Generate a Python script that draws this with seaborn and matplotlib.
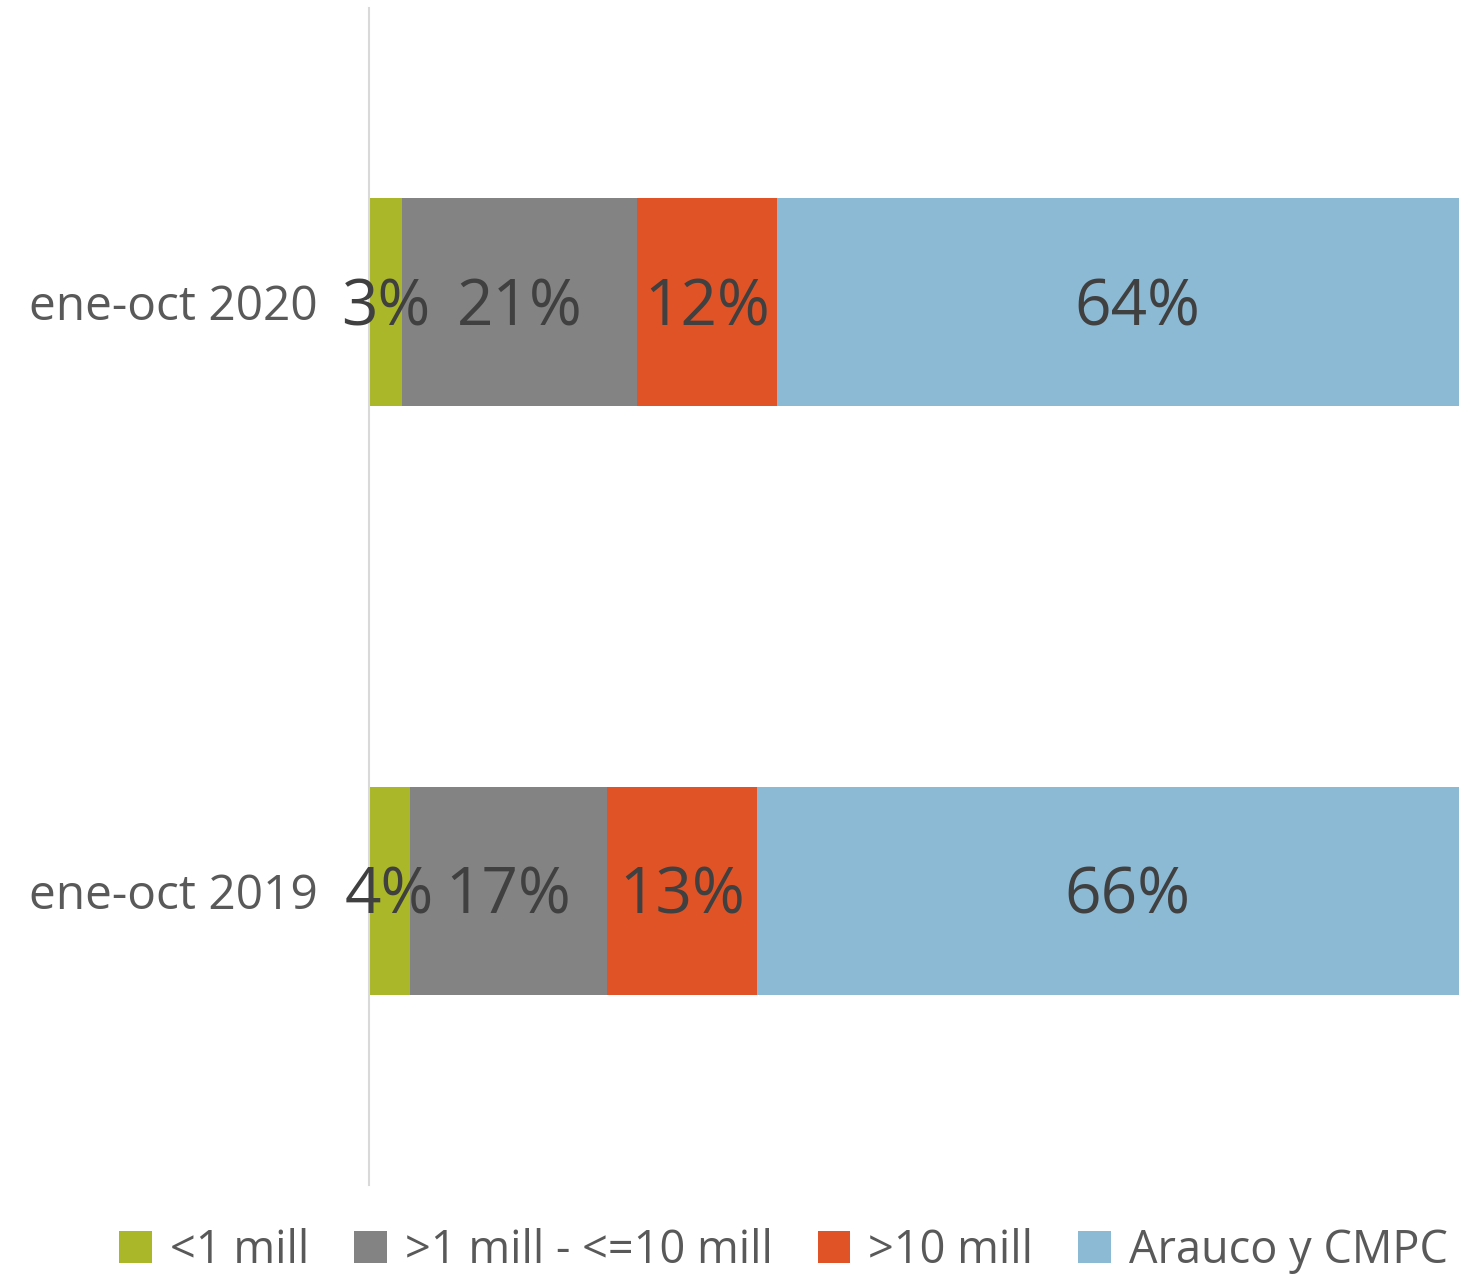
import matplotlib
matplotlib.use("Agg")
import matplotlib.pyplot as plt
import seaborn as sns
import pandas as pd
import numpy as np
from matplotlib.patches import Patch

categories = ["ene-oct 2020", "ene-oct 2019"]
series = ["<1 mill", ">1 mill - <=10 mill", ">10 mill", "Arauco y CMPC"]
v_small = [2.9, 3.6]
v_mid = [20.9, 17.5]
v_big = [12.4, 13.3]
v_arauco = [63.8, 65.6]
labels_small = ["3%", "4%"]
labels_mid = ["21%", "17%"]
labels_big = ["12%", "13%"]
labels_arauco = ["64%", "66%"]
colors = ["#A9B728", "#838383", "#E05327", "#8CB9D4"]

sns.set_theme(style="white")
plt.rcParams["font.family"] = ["Open Sans", "DejaVu Sans"]

vals = np.array([v_small, v_mid, v_big, v_arauco])
cum = np.cumsum(vals, axis=0)
labs = [labels_small, labels_mid, labels_big, labels_arauco]

fig = plt.figure(figsize=(14.59, 12.76), dpi=100)
ax = fig.add_axes([369 / 1459, 91 / 1276, 1128 / 1459, 1177 / 1276])

for i in reversed(range(len(series))):
    df = pd.DataFrame({"cat": categories, "val": cum[i]})
    sns.barplot(data=df, y="cat", x="val", order=categories, orient="h",
                color=colors[i], width=0.354, ax=ax, saturation=1,
                edgecolor="none", linewidth=0)

for i in range(len(series)):
    for j, c in enumerate(categories):
        start = cum[i][j] - vals[i][j]
        ax.text(start + vals[i][j] / 2, j + 0.01, labs[i][j], ha="center", va="center",
                fontsize=46, color="#404040")

ax.set_xlim(0, 100)
ax.set_ylim(1.5, -0.5)
ax.set_xlabel("")
ax.set_ylabel("")
ax.set_xticks([])
ax.tick_params(axis="y", length=0, pad=37, labelsize=34.5, labelcolor="#595959")
for s in ["top", "right", "bottom"]:
    ax.spines[s].set_visible(False)
ax.spines["left"].set_color("#D9D9D9")
ax.spines["left"].set_linewidth(1.5)

handles = [Patch(facecolor=colors[i], edgecolor="none", label=series[i]) for i in range(4)]
fig.legend(handles=handles, loc="lower center", bbox_to_anchor=(0.537, -0.03), ncol=4,
           frameon=False, fontsize=32.5, handlelength=0.72, handleheight=0.72,
           handletextpad=0.4, columnspacing=1.0, labelcolor="#595959")

fig.savefig("out.png", dpi=100)
